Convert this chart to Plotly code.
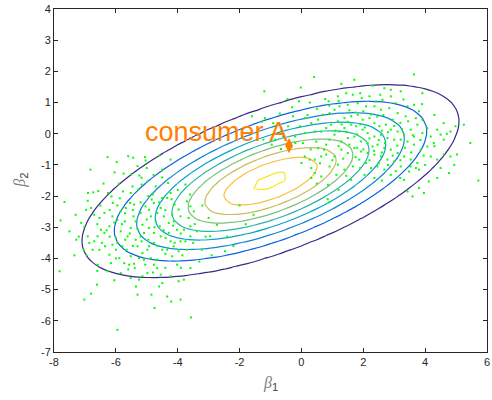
import numpy as np
import plotly.graph_objects as go

# ---------------- data ----------------
# fitted population distribution (mean & covariance of beta)
MEAN = [-1.0, -1.52]
COV = [[8.37, 2.64], [2.64, 2.15]]
# contour levels (fraction of peak density)
LEVEL_START = 0.109
LEVEL_STEP = 0.109
LEVEL_END = 0.981

# individual draws, left cluster
LEFT_X = [-6.27,-5.97,-5.60,-5.44,-5.06,-5.04,-6.82,-6.04,-5.75,-5.24,-5.17,-4.78,-4.59,-4.23,-6.73,-6.57,-6.91,-7.66,-6.25,-6.14,
          -6.10,-5.87,-5.77,-5.52,-5.54,-5.41,-5.28,-5.17,-4.84,-4.81,-4.77,-4.55,-4.31,-4.34,-4.23,-4.10,-3.97,-3.91,-3.75,-3.70,
          -3.59,-3.48,-3.38,-3.59,-3.80,-4.02,-4.13,-4.29,-4.45,-4.58,-4.71,-4.87,-4.93,-5.09,-5.17,-5.36,-5.43,-5.52,-5.62,-5.71,
          -5.84,-5.95,-6.11,-6.21,-6.37,-6.53,-6.70,-6.80,-6.96,-7.12,-7.02,-6.70,-6.59,-6.75,-6.86,-6.53,-6.35,-6.16,-6.00,-5.89,
          -5.79,-5.65,-5.52,-5.30,-5.14,-4.98,-4.87,-4.77,-4.66,-4.50,-4.34,-4.18,-4.02,-3.91,-3.70,-3.59,-3.22,-2.95,-2.73,-2.47,
          -7.79,-7.50,-7.28,-7.34,-7.82,-6.59,-6.27,-6.05,-5.84,-5.52,-5.25,-5.14,-4.98,-4.50,-4.23,-3.97,-3.80,-6.61,-6.80,-7.02,
          -5.30,-4.85,-4.34,-4.21,-3.91,-4.75,-3.57,-5.95,-4.66,-4.55,-4.93,-5.09,-5.25,-5.41,-4.77,-4.55,-4.39,-4.29,-4.23,-4.13,
          -3.97,-3.75,-3.59,-5.46,-5.30,-4.98,-4.71,-4.50,-5.84,-5.68,-5.20,-5.04,-4.93,-4.66,-4.50,-4.18,-5.36,-5.14,-4.77,-6.00,
          -6.11,-6.37,-6.48,-6.91,-7.04,-6.21,-5.73,-5.57,-5.39,-2.00,-1.80,-2.20,-1.55,-2.40,
          -6.50,-6.20,-5.95,-5.70,-5.45,-5.20,-4.95,-4.60,-4.40,-4.20,-6.60,-6.30,-6.05,-5.80,-5.55,-5.30,-5.00,-4.75,-4.45,-4.15,
          -3.90,-3.65,-3.45,-6.45,-6.20,-5.95,-5.70,-5.45,-5.20,-4.95,-4.65,-4.40,-4.10,-3.85,-3.50,-6.00,-5.60,-5.05,-4.80,-4.40,
          -6.90,-6.40,-5.90,-5.50,-5.00,-4.50,-4.00,-3.60,-3.20,-3.00,-7.30,-7.20,-6.95,-6.60,-5.35,-4.60,-3.90,-3.30,-2.90,-3.10]
LEFT_Y = [-0.75,-0.91,-0.72,-0.77,-0.75,-0.86,-1.15,-1.24,-1.28,-1.34,-1.41,-1.32,-0.70,-0.83,-1.88,-1.84,-2.15,-2.19,-1.90,-2.01,
          -2.22,-2.07,-1.85,-1.90,-2.22,-2.27,-1.79,-1.63,-2.11,-1.95,-2.22,-2.38,-1.58,-2.06,-1.90,-2.27,-2.43,-2.65,-1.63,-2.17,
          -2.33,-2.49,-3.13,-2.97,-3.08,-3.08,-2.81,-2.86,-2.65,-2.97,-2.81,-2.65,-3.02,-3.18,-3.45,-3.40,-2.65,-3.02,-3.29,-2.81,
          -3.13,-2.76,-2.65,-2.97,-2.54,-2.70,-2.60,-2.38,-2.44,-2.86,-2.99,-3.45,-3.29,-3.72,-3.50,-3.72,-3.61,-4.15,-3.72,-3.99,
          -3.61,-3.72,-3.93,-3.61,-3.83,-3.72,-3.99,-4.20,-4.04,-3.72,-3.72,-3.93,-4.20,-3.45,-3.72,-4.31,-3.72,-3.29,-2.92,-3.77,
          -2.78,-3.13,-3.40,-3.90,-4.41,-4.20,-4.41,-4.70,-4.47,-4.63,-4.68,-4.57,-4.47,-4.79,-4.57,-4.73,-4.68,-4.84,-5.13,-5.32,
          -5.16,-5.16,-5.22,-5.38,-5.32,-5.59,-5.89,-6.29,-4.31,-4.52,-3.61,-4.04,-3.99,-4.17,-3.50,-3.29,-3.34,-3.18,-3.45,-3.61,
          -3.77,-3.45,-3.29,-1.69,-1.04,-1.53,-1.69,-1.15,-2.49,-2.38,-2.54,-2.33,-2.44,-2.54,-2.06,-2.60,-2.81,-2.92,-3.18,-3.34,
          -3.56,-3.18,-3.08,-3.29,-3.72,-3.88,-4.15,-4.20,-4.31,-2.30,-2.90,-3.60,-2.60,-3.30,
          -2.30,-2.45,-2.30,-2.55,-2.45,-2.20,-2.00,-2.20,-2.45,-2.10,-2.90,-3.10,-2.85,-2.90,-3.20,-3.05,-2.75,-3.00,-3.10,-2.95,
          -3.20,-2.70,-2.90,-3.50,-3.30,-3.50,-3.40,-3.60,-3.30,-3.40,-3.60,-3.85,-3.50,-3.90,-3.50,-4.00,-4.35,-4.20,-4.45,-4.30,
          -1.90,-1.60,-1.60,-1.30,-1.10,-1.40,-1.80,-1.95,-2.30,-2.70,-2.60,-3.30,-3.90,-4.40,-4.90,-4.90,-4.30,-4.10,-3.90,-3.30]

# individual draws, right cluster
RIGHT_X = [0.41,3.64,1.71,-1.20,-0.02,1.29,2.30,2.68,2.89,3.21,3.91,-0.45,-0.08,0.27,0.77,0.88,1.18,1.45,1.66,1.95,
           2.20,2.41,2.62,2.89,3.05,3.43,3.64,3.80,3.91,3.37,3.11,2.84,2.57,2.36,2.09,1.82,1.50,1.23,1.07,0.91,
           0.70,0.54,0.32,0.11,-0.05,-0.27,-0.43,-0.64,-0.91,-1.18,-1.28,-0.86,-0.59,-0.21,0.11,0.43,0.64,0.80,0.96,1.18,
           1.39,1.61,1.82,1.98,2.20,2.36,2.52,2.73,2.89,3.11,3.32,3.53,3.75,4.07,4.39,4.60,4.82,4.98,5.25,5.46,
           4.60,4.28,4.07,3.86,3.64,3.43,3.21,3.00,2.78,2.57,2.36,2.14,1.98,1.77,1.61,1.39,1.23,1.07,0.91,1.29,
           1.50,1.71,1.93,2.14,2.30,2.46,2.68,2.89,3.11,3.32,3.53,3.75,4.18,4.39,4.60,4.82,5.03,4.77,4.39,4.12,
           3.53,3.21,3.00,2.78,2.57,2.36,2.14,1.93,1.71,1.50,1.29,1.07,0.80,0.64,0.54,0.43,0.27,0.11,0.91,1.18,
           1.39,1.66,1.87,2.09,2.25,2.46,2.68,2.89,2.04,1.61,0.86,0.32,0.43,0.64,1.13,2.36,3.32,3.59,3.80,3.96,
           3.43,3.19,3.48,3.80,0.73,0.48,0.05,-0.32,-0.66,-0.96,-1.23,-1.39,-1.60,0.00,0.32,3.64,3.91,4.18,4.50,
           0.85,0.90,5.72,4.94,
           1.55,1.75,2.00,2.25,2.45,2.65,2.95,3.20,3.45,3.70,1.30,1.50,1.90,2.05,2.60,2.80,3.00,3.25,3.60,3.85,
           1.10,1.45,1.80,2.20,2.50,2.70,3.10,3.35,3.55,3.95,0.80,1.20,1.55,1.80,2.00,2.35,2.60,2.95,3.20,3.70,
           0.60,1.00,1.35,1.75,2.20,2.50,2.80,3.05,1.90,1.45,0.20,0.50,0.90,1.20,1.90,2.55,3.30,3.90,4.30,4.30,
           4.00,4.50,4.70,-0.30,-0.70,-0.20,0.30,0.50,1.20,2.60]
RIGHT_Y = [1.82,1.90,1.73,1.36,1.48,1.60,1.54,1.46,1.41,1.36,1.30,1.11,1.04,1.00,1.11,1.04,1.20,1.30,1.25,1.14,
           1.20,1.04,1.09,1.20,0.98,0.88,0.93,0.72,0.45,0.56,0.66,0.82,0.77,0.88,0.88,0.98,0.93,0.88,0.77,0.66,
           0.61,0.45,0.34,0.50,0.24,0.56,0.24,0.13,0.34,0.50,0.39,-0.19,-0.09,-0.09,0.02,0.07,0.07,0.18,0.29,0.40,
           0.50,0.56,0.61,0.45,0.50,0.34,0.24,0.29,0.13,0.07,-0.03,0.13,0.29,0.18,0.13,0.34,0.07,0.24,0.29,-0.30,
           -0.19,-0.30,-0.41,-0.51,-0.35,-0.25,-0.19,-0.19,-0.14,-0.03,-0.09,0.02,0.13,0.24,0.29,0.18,0.07,-0.03,-0.19,-0.25,
           -0.14,-0.09,-0.25,-0.30,-0.41,-0.35,-0.46,-0.51,-0.62,-0.73,-0.83,-0.94,-0.73,-0.83,-0.67,-0.73,-0.67,-1.26,-1.42,-1.53,
           -1.05,-1.05,-0.89,-0.83,-0.73,-0.67,-0.62,-0.57,-0.46,-0.62,-0.51,-0.73,-0.67,-0.73,-0.46,-0.83,-0.83,-0.73,-1.05,-0.99,
           -1.15,-1.05,-0.83,-0.94,-1.10,-1.05,-1.15,-1.32,-1.32,-1.48,-1.64,-1.42,-1.26,-1.37,-1.32,-1.42,-1.48,-2.01,-1.74,-1.90,
           -1.85,-1.42,-1.21,-1.15,-0.51,-0.25,-0.30,-0.41,-0.49,-0.35,-0.19,0.13,0.56,-0.94,-1.10,-0.09,0.02,-0.09,-0.03,
           -2.10,-2.20,-1.50,-1.00,
           0.75,0.68,0.72,0.62,0.55,0.60,0.45,0.35,0.40,0.50,0.30,0.38,0.30,0.20,0.10,0.05,0.25,0.15,-0.05,-0.20,
           0.10,0.05,-0.02,-0.15,-0.20,-0.30,-0.38,-0.45,-0.60,-0.70,-0.35,-0.40,-0.35,-0.45,-0.50,-0.55,-0.60,-0.70,-0.85,-1.10,
           -0.95,-0.85,-0.80,-0.75,-0.85,-0.95,-1.00,-1.20,-1.10,-1.35,0.60,0.80,0.90,1.05,1.30,1.25,1.10,0.95,0.60,-0.40,
           -1.00,-1.10,0.00,0.85,0.65,-0.30,-0.50,-1.60,-1.80,-1.50]

CONSUMER_LABEL = "consumer A"
CONSUMER_X = [-0.40]
CONSUMER_Y = [-0.38]
LABEL_X = -5.12
LABEL_Y = 0.05

X_TICKS = [-8, -6, -4, -2, 0, 2, 4, 6]
Y_TICKS = [-7, -6, -5, -4, -3, -2, -1, 0, 1, 2, 3, 4]

PARULA = [[0.0, "#352A87"], [0.125, "#0D62DE"], [0.25, "#1485D4"], [0.375, "#0AA1CB"],
          [0.5, "#2DB3A6"], [0.625, "#7DBF7B"], [0.75, "#C9BC5E"], [0.875, "#FCBF3D"], [1.0, "#F7E81B"]]

# ---------------- density grid ----------------
gx = np.arange(-8.0, 6.0001, 0.25)
gy = np.arange(-7.0, 4.0001, 0.25)
GX, GY = np.meshgrid(gx, gy)
C = np.array(COV)
Ci = np.linalg.inv(C)
dx = GX - MEAN[0]
dy = GY - MEAN[1]
m2 = Ci[0, 0] * dx * dx + 2 * Ci[0, 1] * dx * dy + Ci[1, 1] * dy * dy
Z = np.exp(-0.5 * m2)

fig = go.Figure()
fig.add_trace(go.Contour(
    x=gx, y=gy, z=Z,
    contours=dict(coloring="lines", start=LEVEL_START, end=LEVEL_END, size=LEVEL_STEP),
    colorscale=PARULA, showscale=False, line=dict(width=1.2), hoverinfo="skip",
))
fig.add_trace(go.Scatter(
    x=LEFT_X + RIGHT_X, y=LEFT_Y + RIGHT_Y, mode="markers",
    marker=dict(symbol="square", size=2, color="#00FF00", line=dict(width=0)),
    showlegend=False,
))
fig.add_trace(go.Scatter(
    x=CONSUMER_X, y=CONSUMER_Y, mode="markers",
    marker=dict(symbol="diamond-tall", size=11, color="#FF8000", line=dict(width=0)),
    showlegend=False,
))

axis_common = dict(
    showgrid=False, zeroline=False, showline=True, linecolor="#262626", linewidth=1,
    mirror="allticks", ticks="inside", ticklen=4, tickcolor="#262626", tickwidth=1,
    ticklabeloverflow="allow",
    tickfont=dict(family="Liberation Sans, Arial", size=11, color="#262626"),
)
fig.update_xaxes(range=[-8, 6], tickvals=X_TICKS, ticktext=[str(v) for v in X_TICKS], **axis_common)
fig.update_yaxes(range=[-7, 4], tickvals=Y_TICKS, ticktext=[str(v) for v in Y_TICKS], **axis_common)

SUB_STYLE = "font-family:Liberation Sans, Arial;color:#404040"
fig.add_annotation(x=LABEL_X, y=LABEL_Y, xref="x", yref="y", text=CONSUMER_LABEL,
                   showarrow=False, xanchor="left", yanchor="middle",
                   font=dict(family="Liberation Sans, Arial", size=27, color="#FF8000"))
fig.add_annotation(x=0.5, y=-0.058, xref="paper", yref="paper",
                   text="<i>β</i><sub><span style='%s'>1</span></sub>" % SUB_STYLE,
                   showarrow=False, xanchor="center", yanchor="top",
                   font=dict(family="Liberation Serif, serif", size=16, color="#808080"))
fig.add_annotation(x=-0.078, y=0.5, xref="paper", yref="paper",
                   text="<i>β</i><sub><span style='%s'>2</span></sub>" % SUB_STYLE,
                   showarrow=False, xanchor="center", yanchor="middle", textangle=-90,
                   font=dict(family="Liberation Serif, serif", size=16, color="#808080"))

fig.update_layout(
    width=492, height=400, margin=dict(l=54, r=2, t=9, b=48),
    paper_bgcolor="white", plot_bgcolor="white", showlegend=False,
)
fig.write_html("out.html")
